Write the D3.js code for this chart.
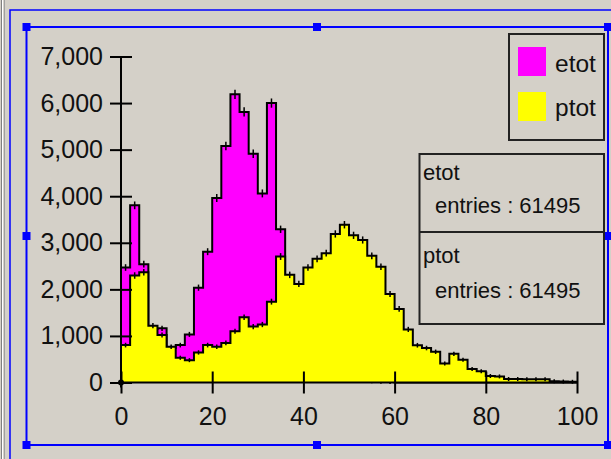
<!DOCTYPE html>
<html>
<head>
<meta charset="utf-8">
<script src="https://cdn.jsdelivr.net/npm/d3@7"></script>
<style>
  html, body { margin: 0; padding: 0; background: #d4d0c8; }
  svg { display: block; }
  text { font-family: "Liberation Sans", Arial, sans-serif; fill: #111; }
</style>
</head>
<body>
<svg id="chart" width="611" height="459"></svg>
<script>
// Histogram contents, 50 bins of width 2 over [0, 100]
const binWidth = 2;
const etot = [
  2469, 3804, 2541, 1150, 1163, 740, 803, 1033, 2036, 2809,
  3962, 5078, 6188, 5810, 4910, 4060, 6000, 3290, 1500, 800,
  450, 300, 200, 130, 90, 60, 40, 25, 15, 10,
  0, 0, 0, 0, 0, 0, 0, 0, 0, 0,
  0, 0, 0, 0, 0, 0, 0, 0, 0, 0
];
const ptot = [
  803, 2297, 2369, 1219, 1019, 767, 531, 480, 645, 803,
  767, 850, 1100, 1400, 1200, 1245, 1736, 2705, 2311, 2117,
  2469, 2655, 2778, 3190, 3388, 3160, 3060, 2720, 2485, 1900,
  1580, 1140, 800, 740, 660, 409, 615, 490, 290, 240,
  140, 130, 75, 75, 70, 70, 70, 25, 20, 15
];
const seriesNames = ["etot", "ptot"];
const seriesColors = ["#ff00ff", "#ffff00"];
const entries = [61495, 61495];
const xTicks = [0, 20, 40, 60, 80, 100];
const yTicks = [0, 1000, 2000, 3000, 4000, 5000, 6000, 7000];

const svg = d3.select("#chart");
const W = 611, H = 459;

svg.append("rect").attr("width", W).attr("height", H).attr("fill", "#d4d0c8");

// window edge on the left
svg.append("line").attr("x1", 1.5).attr("x2", 1.5).attr("y1", 0).attr("y2", H).attr("stroke", "#808080");
svg.append("line").attr("x1", 2.5).attr("x2", 2.5).attr("y1", 0).attr("y2", H).attr("stroke", "#ffffff");
svg.append("line").attr("x1", 4.5).attr("x2", 4.5).attr("y1", 0).attr("y2", H).attr("stroke", "#a0a0a0");

// selection frames
svg.append("path")
  .attr("d", `M10,${H + 2}V10H${W + 2}`)
  .attr("fill", "none").attr("stroke", "#0000ff").attr("stroke-width", 1.5);
const sel = { x0: 26.5, y0: 27, x1: 608, y1: 445 };
svg.append("rect")
  .attr("x", sel.x0).attr("y", sel.y0)
  .attr("width", sel.x1 - sel.x0).attr("height", sel.y1 - sel.y0)
  .attr("fill", "none").attr("stroke", "#0000ff").attr("stroke-width", 2);
const handles = [
  [sel.x0, sel.y0], [317, sel.y0], [sel.x1, sel.y0],
  [sel.x0, 236], [sel.x1, 236],
  [sel.x0, sel.y1], [317, sel.y1], [sel.x1, sel.y1]
];
svg.selectAll("rect.handle").data(handles).join("rect")
  .attr("class", "handle")
  .attr("x", d => d[0] - 4).attr("y", d => d[1] - 4)
  .attr("width", 8).attr("height", 8)
  .attr("fill", "#0000ff");

// scales
const x = d3.scaleLinear().domain([0, 100]).range([121, 577]);
const y = d3.scaleLinear().domain([0, 7000]).range([382.5, 56.5]);

function stepPoints(vals) {
  const pts = [[0, 0]];
  vals.forEach((v, i) => {
    pts.push([i * binWidth, v]);
    pts.push([(i + 1) * binWidth, v]);
  });
  pts.push([vals.length * binWidth, 0]);
  return pts;
}
const line = d3.line().x(d => x(d[0])).y(d => y(d[1]));

function drawHist(vals, color) {
  const g = svg.append("g");
  const pts = stepPoints(vals);
  g.append("path").attr("d", line(pts) + "Z")
    .attr("fill", color).attr("stroke", "none");
  g.append("path").attr("d", line(pts))
    .attr("fill", "none").attr("stroke", "#000")
    .attr("stroke-width", 2).attr("stroke-linejoin", "miter");
  // statistical error markers at bin centres
  const pxPerUnit = Math.abs(y(1000) - y(0)) / 1000;
  g.selectAll("line.err").data(vals.map((v, i) => ({ v, i })).filter(d => d.v > 0))
    .join("line").attr("class", "err")
    .attr("x1", d => x((d.i + 0.5) * binWidth))
    .attr("x2", d => x((d.i + 0.5) * binWidth))
    .attr("y1", d => y(d.v) - (Math.max(Math.sqrt(d.v) * pxPerUnit, 1) + 1))
    .attr("y2", d => y(d.v) + (Math.max(Math.sqrt(d.v) * pxPerUnit, 1) + 1))
    .attr("stroke", "#000").attr("stroke-width", 1.5);
}
drawHist(etot, seriesColors[0]);
drawHist(ptot, seriesColors[1]);

// axes
const yAxis = d3.axisLeft(y).tickValues(yTicks).tickFormat(d3.format(","))
  .tickSizeInner(0).tickSizeOuter(0).tickPadding(18);
const gy = svg.append("g").attr("transform", `translate(${x(0)},0)`).call(yAxis);
gy.select(".domain").remove();
gy.selectAll(".tick line").attr("x1", -11).attr("x2", 11).attr("stroke", "#000").attr("stroke-width", 2);
gy.selectAll(".tick text").attr("font-size", 25).attr("fill", "#111")
  .style("font-family", '"Liberation Sans", Arial, sans-serif');
svg.append("line").attr("x1", x(0)).attr("x2", x(0))
  .attr("y1", y(7000)).attr("y2", y(0) + 5)
  .attr("stroke", "#000").attr("stroke-width", 2);

const xAxis = d3.axisBottom(x).tickValues(xTicks)
  .tickSizeInner(0).tickSizeOuter(0).tickPadding(25);
const gx = svg.append("g").attr("transform", `translate(0,${y(0)})`).call(xAxis);
gx.select(".domain").remove();
gx.selectAll(".tick line").attr("y1", -11).attr("y2", 11).attr("stroke", "#000").attr("stroke-width", 2);
gx.selectAll(".tick text").attr("font-size", 25).attr("fill", "#111")
  .style("font-family", '"Liberation Sans", Arial, sans-serif');
svg.append("line").attr("x1", x(0)).attr("x2", x(100))
  .attr("y1", y(0)).attr("y2", y(0))
  .attr("stroke", "#000").attr("stroke-width", 2);
svg.append("circle").attr("cx", x(0)).attr("cy", y(0)).attr("r", 3).attr("fill", "#000");

// legend
const leg = svg.append("g");
leg.append("rect").attr("x", 509).attr("y", 34).attr("width", 95).attr("height", 106)
  .attr("fill", "none").attr("stroke", "#222").attr("stroke-width", 2);
seriesNames.forEach((name, i) => {
  leg.append("rect").attr("x", 518).attr("y", 47 + i * 45).attr("width", 28).attr("height", 29)
    .attr("fill", seriesColors[i]);
  leg.append("text").attr("x", 555).attr("y", 72 + i * 44).attr("font-size", 24.5).text(name);
});

// statistics boxes
const stats = svg.append("g");
stats.append("rect").attr("x", 419.5).attr("y", 154).attr("width", 184.5).attr("height", 170)
  .attr("fill", "none").attr("stroke", "#222").attr("stroke-width", 2);
stats.append("line").attr("x1", 419.5).attr("x2", 604).attr("y1", 232).attr("y2", 232)
  .attr("stroke", "#222").attr("stroke-width", 2);
seriesNames.forEach((name, i) => {
  stats.append("text").attr("x", 423).attr("y", 180 + i * 83).attr("font-size", 22).text(name);
  stats.append("text").attr("x", 435).attr("y", 213 + i * 85).attr("font-size", 22)
    .text("entries : " + entries[i]);
});
</script>
</body>
</html>
